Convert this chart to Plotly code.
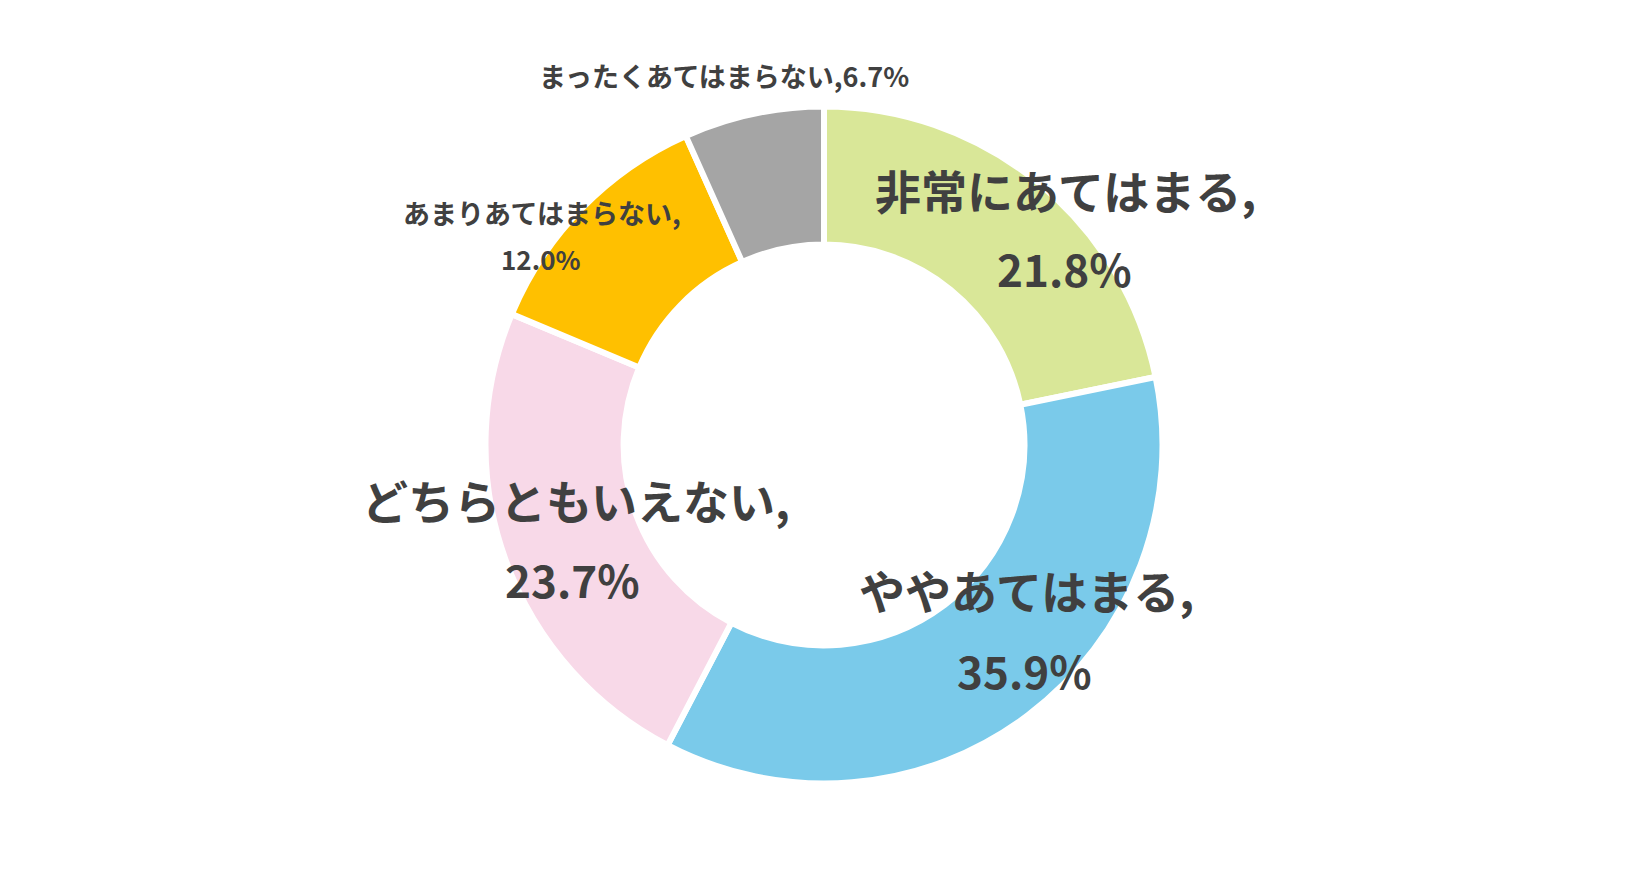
import plotly.graph_objects as go

categories = ["非常にあてはまる", "ややあてはまる", "どちらともいえない", "あまりあてはまらない", "まったくあてはまらない"]
values = [21.8, 35.9, 23.7, 12.0, 6.7]
colors = ["#D9E798", "#7ACAEA", "#F8D9E8", "#FFC000", "#A5A5A5"]

W, H = 1650, 891
OFF = 8  # page body margin compensation
cx, cy, r = 824 - OFF, 445 - OFF, 338.5

fig = go.Figure(go.Pie(
    labels=categories,
    values=values,
    sort=False,
    direction="clockwise",
    rotation=0,
    hole=0.592,
    marker=dict(colors=colors, line=dict(color="white", width=6)),
    textinfo="none",
    hoverinfo="label+percent",
    showlegend=False,
    domain=dict(x=[(cx - r) / W, (cx + r) / W], y=[(H - cy - r) / H, (H - cy + r) / H]),
))

FONT = "Noto Sans CJK JP"
TXT = "#404040"

def add(text, x, y, size):
    x -= OFF
    y -= OFF + 3
    fig.add_annotation(text=text, x=x / W, y=1 - y / H, xref="paper", yref="paper",
                       showarrow=False, xanchor="center", yanchor="middle",
                       font=dict(family=FONT, size=size, color=TXT, weight=700))

bigj, bign, smallj, smalln = 46, 44, 27, 26
# label positions (pixel centers)
add(categories[0] + ",", 1065, 192, bigj)
add(f"{values[0]:.1f}%", 1064, 271, bign)
add(categories[1] + ",", 1026, 592, bigj)
add(f"{values[1]:.1f}%", 1024, 673, bign)
add(categories[2] + ",", 576, 502, bigj)
add(f"{values[2]:.1f}%", 572, 582, bign)
add(categories[3] + ",", 542, 216, smallj)
add(f"{values[3]:.1f}%", 541, 262, smalln)
add(f"{categories[4]},{values[4]:.1f}%", 724, 79, smallj)

fig.update_layout(width=W, height=H, margin=dict(l=0, r=0, t=0, b=0),
                  paper_bgcolor="white", plot_bgcolor="white")

fig.write_html("out.html")
